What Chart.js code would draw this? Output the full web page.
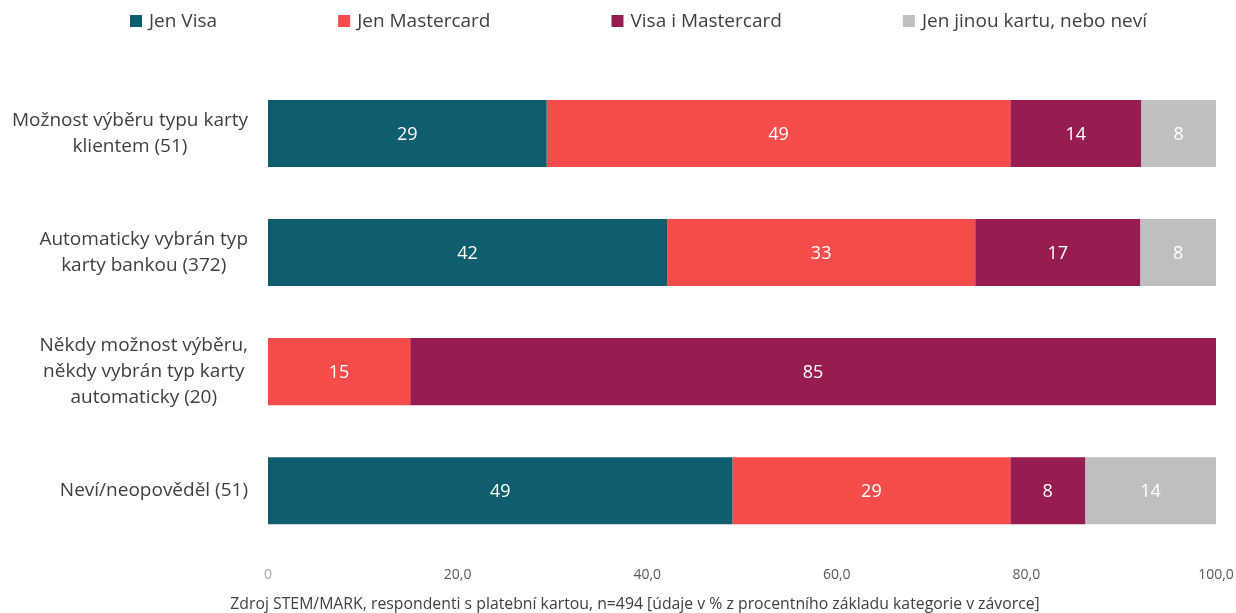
<!DOCTYPE html>
<html lang="cs">
<head>
<meta charset="utf-8">
<title>Výběr typu karty</title>
<script src="https://cdn.jsdelivr.net/npm/chart.js@4/dist/chart.umd.min.js"></script>
<style>
  html, body { margin: 0; padding: 0; background: #fff; overflow: hidden; }
  canvas { display: block; }
</style>
</head>
<body>
<canvas id="chart" width="1236" height="613"></canvas>
<script>
// categories (multi-line labels)
const categories = [
  ["Možnost výběru typu karty", "klientem (51)"],
  ["Automaticky vybrán typ", "karty bankou (372)"],
  ["Někdy možnost výběru,", "někdy vybrán typ karty", "automaticky (20)"],
  ["Neví/neopověděl (51)"]
];

// series values, % (labels show rounded values)
const seriesNames = ["Jen Visa", "Jen Mastercard", "Visa i Mastercard", "Jen jinou kartu, nebo neví"];
const jenVisa       = [29.4, 42.1, 0,    49.0];
const jenMastercard = [48.9, 32.5, 15.0, 29.3];
const visaIMaster   = [13.8, 17.4, 85.0, 7.9];
const jinouKartu    = [7.9,  8.0,  0,    13.8];

const xTicks = [0, 20, 40, 60, 80, 100];
const caption = "Zdroj STEM/MARK, respondenti s platební kartou, n=494 [údaje v % z procentního základu kategorie v závorce]";

const colors = ["#0E5E6F", "#F64D4C", "#961C52", "#BFBFBF"];
const FONT = "'Segoe UI', 'Open Sans', sans-serif";
const TEXT = "#404040";

// draws value labels, category labels, legend and caption
const extras = {
  id: "extras",
  afterDatasetsDraw(chart) {
    const ctx = chart.ctx;
    ctx.save();
    ctx.font = "18px " + FONT;
    ctx.fillStyle = "#fff";
    ctx.textAlign = "center";
    ctx.textBaseline = "middle";
    chart.data.datasets.forEach((ds, di) => {
      const meta = chart.getDatasetMeta(di);
      meta.data.forEach((bar, i) => {
        const v = ds.data[i];
        if (!v) return;
        ctx.fillText(String(Math.round(v)), (bar.x + bar.base) / 2, bar.y + 1);
      });
    });
    ctx.restore();
  },
  afterDraw(chart) {
    const ctx = chart.ctx;
    const yScale = chart.scales.y;
    ctx.save();

    // category labels: block right-aligned, lines centered within the block
    ctx.font = "19px " + FONT;
    ctx.fillStyle = TEXT;
    ctx.textAlign = "center";
    ctx.textBaseline = "middle";
    const right = chart.chartArea.left - 20;
    const lh = 26;
    categories.forEach((lines, i) => {
      const y = yScale.getPixelForValue(i);
      const maxW = Math.max(...lines.map(l => ctx.measureText(l).width));
      const cx = right - maxW / 2;
      const y0 = y - (lines.length - 1) * lh / 2;
      lines.forEach((l, k) => ctx.fillText(l, cx, y0 + k * lh));
    });

    // legend spread between x=130 and x=1147
    const box = 12, gapText = 7, legL = 130, legR = 1147;
    const widths = seriesNames.map(n => box + gapText + ctx.measureText(n).width);
    const gapItem = (legR - legL - widths.reduce((a, b) => a + b, 0)) / (widths.length - 1);
    let x = legL;
    const ly = 21;
    ctx.textAlign = "left";
    seriesNames.forEach((n, i) => {
      ctx.fillStyle = colors[i];
      ctx.fillRect(x, ly - box / 2, box, box);
      ctx.fillStyle = TEXT;
      ctx.fillText(n, x + box + gapText, ly + 1);
      x += widths[i] + gapItem;
    });

    // source caption
    ctx.font = "15.8px " + FONT;
    ctx.fillStyle = TEXT;
    ctx.textAlign = "center";
    ctx.fillText(caption, 635, 604);
    ctx.restore();
  }
};

const mk = (label, data, i) => ({
  label, data,
  backgroundColor: colors[i],
  borderWidth: 0,
  barPercentage: 0.563,
  categoryPercentage: 1
});

new Chart(document.getElementById("chart"), {
  type: "bar",
  data: {
    labels: categories,
    datasets: [
      mk(seriesNames[0], jenVisa, 0),
      mk(seriesNames[1], jenMastercard, 1),
      mk(seriesNames[2], visaIMaster, 2),
      mk(seriesNames[3], jinouKartu, 3)
    ]
  },
  options: {
    indexAxis: "y",
    responsive: false,
    animation: false,
    layout: { padding: { top: 74, left: 268, right: 20, bottom: 13 } },
    plugins: {
      legend: { display: false },
      tooltip: { enabled: false }
    },
    scales: {
      x: {
        stacked: true,
        min: 0,
        max: 100,
        afterBuildTicks: (axis) => { axis.ticks = xTicks.map(v => ({ value: v })); },
        // the "100,0" label may overhang the right padding, as in the original
        afterFit: (axis) => { axis.paddingRight = 0; axis.paddingLeft = 0; },
        grid: { display: false, drawTicks: false },
        border: { display: false },
        ticks: {
          padding: 16.5,
          font: { family: FONT, size: 14 },
          color: (c) => (c.tick && c.tick.value === 0 ? "#A6A6A6" : "#595959"),
          callback: (v) => (v === 0 ? "0" : v.toFixed(1).replace(".", ","))
        }
      },
      y: {
        stacked: true,
        grid: { display: false, drawTicks: false },
        border: { display: false },
        ticks: { display: false }
      }
    }
  },
  plugins: [extras]
});
</script>
</body>
</html>
